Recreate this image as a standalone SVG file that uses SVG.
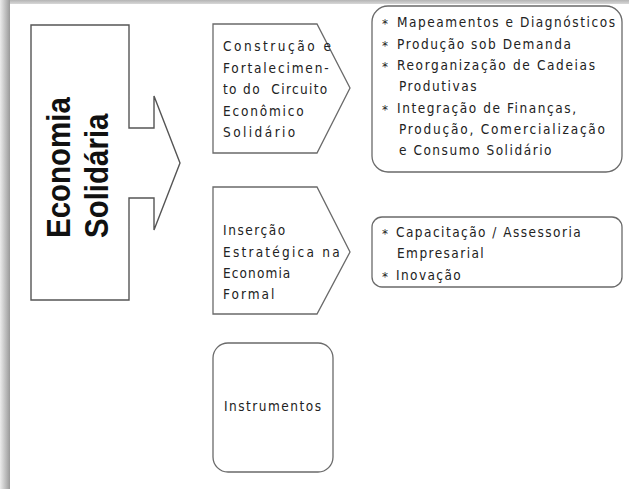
<svg xmlns="http://www.w3.org/2000/svg" width="629" height="489" viewBox="0 0 629 489">
<defs>
<linearGradient id="gl" x1="0" y1="0" x2="1" y2="0">
<stop offset="0" stop-color="#ececec"/>
<stop offset="0.85" stop-color="#a6a6a6"/>
<stop offset="1" stop-color="#999"/>
</linearGradient>
<linearGradient id="gt" x1="0" y1="0" x2="0" y2="1">
<stop offset="0" stop-color="#b4b4b4"/>
<stop offset="1" stop-color="#d8d8d8"/>
</linearGradient>
</defs>
<style>
.shape{fill:#fff;stroke:#6a6a6a;stroke-width:1.3}
.big{fill:#fff;stroke:#555;stroke-width:1.4}
.t{font-family:"DejaVu Sans Condensed","DejaVu Sans",sans-serif;font-size:13.5px;fill:#222}
.ast{font-family:"DejaVu Sans",sans-serif;font-size:12px;fill:#222}
.title{font-family:"Liberation Sans",Arial,sans-serif;font-weight:bold;font-size:29.5px;fill:#111}
</style>
<rect x="0" y="0" width="629" height="489" fill="#fff"/>
<rect x="0" y="0" width="629" height="4" fill="url(#gt)"/>
<rect x="0" y="0" width="10" height="489" fill="url(#gl)"/>

<g id="economia-solidaria">
<path class="big" d="M31,25 H129 V128 H154 V96 L180,163 L154,230 V198 H129 V300 H31 Z"/>
<text class="title" transform="translate(70,238) rotate(-90) scale(1,1.15)">Economia</text>
<text class="title" transform="translate(108,238) rotate(-90) scale(1,1.15)">Solidária</text>
</g>

<g id="construcao">
<path class="shape" d="M213,24 H317 L350,88 L317,153 H213 Z"/>
<text class="t" x="223" y="51" textLength="108">Construção e</text>
<text class="t" x="223" y="72.5" textLength="105.6">Fortalecimen-</text>
<text class="t" x="223" y="94" textLength="104.3" style="white-space:pre">to do  Circuito</text>
<text class="t" x="223" y="115.5" textLength="80.6">Econômico</text>
<text class="t" x="223" y="137" textLength="72.3">Solidário</text>
</g>

<g id="insercao">
<path class="shape" d="M213,187 H317 L350,252 L317,314 H213 Z"/>
<text class="t" x="223" y="235" textLength="62.3">Inserção</text>
<text class="t" x="223" y="256.5" textLength="116.6">Estratégica na</text>
<text class="t" x="223" y="278" textLength="67.3">Economia</text>
<text class="t" x="223" y="299" textLength="51.3">Formal</text>
</g>

<g id="instrumentos">
<rect class="shape" x="213" y="343" width="120" height="129" rx="15" ry="15"/>
<text class="t" x="224" y="410.5" textLength="97">Instrumentos</text>
</g>

<g id="lista-circuito">
<rect class="shape" x="372" y="6" width="250" height="166" rx="16" ry="16"/>
<text class="ast" x="382" y="28">*</text>
<text class="t" x="397" y="27" textLength="218">Mapeamentos e Diagnósticos</text>
<text class="ast" x="382" y="49.5">*</text>
<text class="t" x="397" y="48.5" textLength="174">Produção sob Demanda</text>
<text class="ast" x="382" y="71">*</text>
<text class="t" x="397" y="70" textLength="198">Reorganização de Cadeias</text>
<text class="t" x="399" y="91" textLength="77.5">Produtivas</text>
<text class="ast" x="382" y="113.5">*</text>
<text class="t" x="397" y="112.5" textLength="179">Integração de Finanças,</text>
<text class="t" x="399" y="134" textLength="206">Produção, Comercialização</text>
<text class="t" x="399" y="155" textLength="152.5">e Consumo Solidário</text>
</g>

<g id="lista-insercao">
<rect class="shape" x="372" y="217" width="250" height="70" rx="10" ry="10"/>
<text class="ast" x="382" y="237.5">*</text>
<text class="t" x="396" y="236.5" textLength="184.7">Capacitação / Assessoria</text>
<text class="t" x="397" y="257.5" textLength="86.7">Empresarial</text>
<text class="ast" x="382" y="280.5">*</text>
<text class="t" x="396" y="279.5" textLength="64.7">Inovação</text>
</g>

<g id="connectors"></g>
</svg>
